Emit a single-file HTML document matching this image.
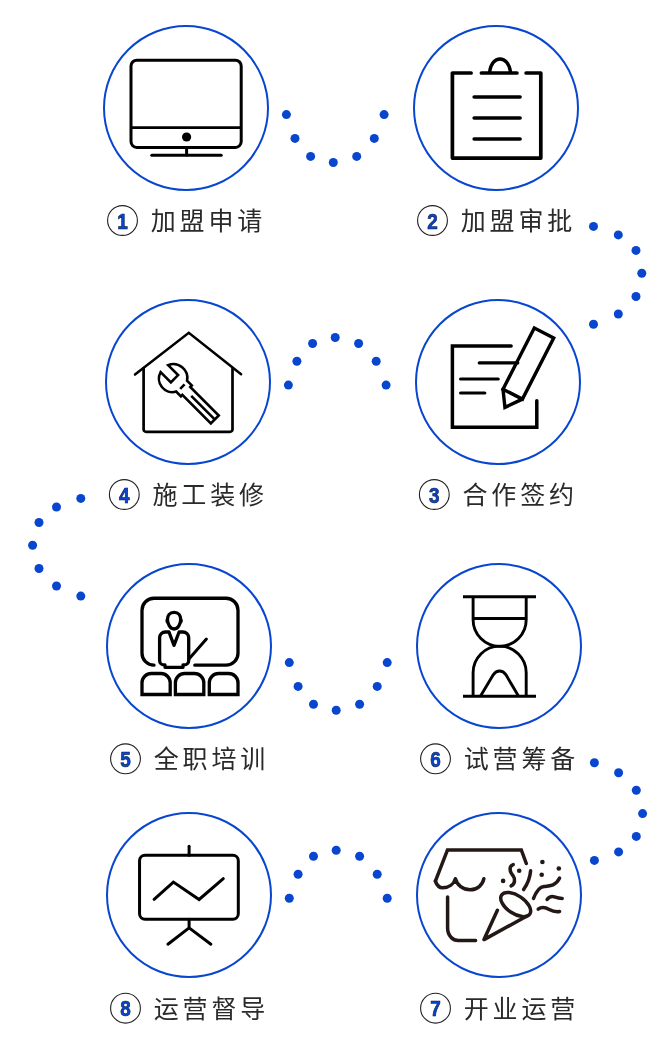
<!DOCTYPE html>
<html lang="zh-CN">
<head>
<meta charset="utf-8">
<title>加盟流程</title>
<style>
html,body{margin:0;padding:0;background:#fff;}
body{width:672px;height:1058px;overflow:hidden;position:relative;}
svg{display:block;position:absolute;left:0;top:0;will-change:transform;}
.t{font-family:"Liberation Sans","Noto Sans CJK SC",sans-serif;font-size:25px;font-weight:400;letter-spacing:3.85px;fill:#2a2a2a;}
.n{font-family:"Liberation Sans","DejaVu Sans",sans-serif;font-size:22px;font-weight:700;fill:#0846d0;stroke:#10204a;stroke-width:0.7px;}
</style>
</head>
<body>
<svg width="672" height="1058" viewBox="0 0 672 1058">
<g fill="#0846d0">
<circle cx="286.4" cy="114.6" r="4.5"/>
<circle cx="295.0" cy="138.4" r="4.5"/>
<circle cx="310.6" cy="156.4" r="4.5"/>
<circle cx="333.3" cy="162.5" r="4.5"/>
<circle cx="356.7" cy="156.4" r="4.5"/>
<circle cx="374.3" cy="138.4" r="4.5"/>
<circle cx="384.1" cy="114.6" r="4.5"/>
<circle cx="593.5" cy="226.4" r="4.5"/>
<circle cx="618.3" cy="234.9" r="4.5"/>
<circle cx="636.0" cy="250.4" r="4.5"/>
<circle cx="641.8" cy="273.3" r="4.5"/>
<circle cx="636.0" cy="296.5" r="4.5"/>
<circle cx="618.3" cy="314.0" r="4.5"/>
<circle cx="593.5" cy="324.2" r="4.5"/>
<circle cx="288.4" cy="385.1" r="4.5"/>
<circle cx="296.9" cy="361.3" r="4.5"/>
<circle cx="312.6" cy="343.5" r="4.5"/>
<circle cx="335.2" cy="337.5" r="4.5"/>
<circle cx="358.6" cy="343.5" r="4.5"/>
<circle cx="376.2" cy="361.3" r="4.5"/>
<circle cx="386.1" cy="385.1" r="4.5"/>
<circle cx="80.8" cy="498.4" r="4.5"/>
<circle cx="56.5" cy="507.0" r="4.5"/>
<circle cx="39.0" cy="522.5" r="4.5"/>
<circle cx="32.6" cy="545.3" r="4.5"/>
<circle cx="39.0" cy="568.5" r="4.5"/>
<circle cx="56.5" cy="586.0" r="4.5"/>
<circle cx="80.8" cy="596.1" r="4.5"/>
<circle cx="289.3" cy="662.6" r="4.5"/>
<circle cx="298.1" cy="686.4" r="4.5"/>
<circle cx="313.5" cy="704.2" r="4.5"/>
<circle cx="336.2" cy="710.2" r="4.5"/>
<circle cx="359.6" cy="704.2" r="4.5"/>
<circle cx="377.2" cy="686.4" r="4.5"/>
<circle cx="387.2" cy="662.6" r="4.5"/>
<circle cx="594.4" cy="762.8" r="4.5"/>
<circle cx="618.6" cy="772.8" r="4.5"/>
<circle cx="636.3" cy="790.2" r="4.5"/>
<circle cx="642.6" cy="813.6" r="4.5"/>
<circle cx="636.3" cy="836.4" r="4.5"/>
<circle cx="618.6" cy="851.9" r="4.5"/>
<circle cx="594.4" cy="860.4" r="4.5"/>
<circle cx="289.3" cy="898.3" r="4.5"/>
<circle cx="298.1" cy="874.3" r="4.5"/>
<circle cx="313.5" cy="856.3" r="4.5"/>
<circle cx="336.2" cy="850.3" r="4.5"/>
<circle cx="359.6" cy="856.3" r="4.5"/>
<circle cx="377.2" cy="874.3" r="4.5"/>
<circle cx="387.2" cy="898.3" r="4.5"/>
</g>
<circle cx="186.0" cy="108.0" r="82" fill="none" stroke="#0846d0" stroke-width="2"/>
<g transform="translate(186.0 108.0)"><g fill="none" stroke="#000" stroke-width="3" stroke-linecap="round" stroke-linejoin="round">
<rect x="-55" y="-47.8" width="110.2" height="87.2" rx="5.8"/>
<line x1="-54" y1="19.6" x2="54" y2="19.6" stroke-width="2.7" stroke-linecap="butt"/>
<line x1="0.6" y1="40" x2="0.6" y2="47"/>
<line x1="-34.2" y1="47.2" x2="35.2" y2="47.2"/>
<circle cx="0.6" cy="29" r="4.6" fill="#000" stroke="none"/>
</g></g>
<circle cx="122.5" cy="220.5" r="14.9" fill="#fff" stroke="#222" stroke-width="1.1"/>
<text class="n" transform="translate(122.4 228.5) scale(0.86 1)" text-anchor="middle">1</text>
<text class="t" x="150.7" y="229.9">加盟申请</text>
<circle cx="496.0" cy="108.0" r="82" fill="none" stroke="#0846d0" stroke-width="2"/>
<g transform="translate(496.0 108.0)"><g fill="none" stroke="#000" stroke-width="3.7" stroke-linecap="round" stroke-linejoin="round">
<path d="M-24.9 -35H-43.6V50.1H44.8V-35H30.1"/>
<path d="M-14.6 -35H20.9"/>
<path d="M-6.4 -36C-5.4 -44.5 -1 -49 4 -49C9 -49 13.5 -44.5 14.5 -36" stroke-width="3.3"/>
<g stroke-width="3.5"><line x1="-21.9" y1="-10.9" x2="24.1" y2="-10.9"/>
<line x1="-21.9" y1="9.9" x2="24.1" y2="9.9"/>
<line x1="-21.9" y1="31" x2="24.1" y2="31"/></g>
</g></g>
<circle cx="432.5" cy="220.5" r="14.9" fill="#fff" stroke="#222" stroke-width="1.1"/>
<text class="n" transform="translate(432.4 228.5) scale(0.86 1)" text-anchor="middle">2</text>
<text class="t" x="460.7" y="229.9">加盟审批</text>
<circle cx="188.0" cy="382.0" r="82" fill="none" stroke="#0846d0" stroke-width="2"/>
<g transform="translate(187.8 382.2)"><g fill="none" stroke="#000" stroke-width="2.7" stroke-linecap="round" stroke-linejoin="round">
<path d="M-52.8 -7.6L1 -49.4L53.3 -7.9" stroke-linejoin="miter" stroke-width="2.5"/>
<path d="M-44.2 -14V47.2a2.5 2.5 0 0 0 2.5 2.5H42.2a2.5 2.5 0 0 0 2.5 -2.5V-14"/>
<g transform="translate(-12.9 -3.2) rotate(45)" stroke-width="2.6" stroke-linejoin="miter">
<path d="M-14.6 -5H-0.5V5.2H-15A13.5 13.5 0 0 0 9.8 8H16.5V6H56.8V-5.2H16.5V-7.4H9.8A14 14 0 0 0 -14.6 -5Z"/>
<path d="M10.7 -3V3.2M23.5 0.4H56.3" stroke-linecap="butt"/>
</g>
</g></g>
<circle cx="124.3" cy="494.5" r="14.9" fill="#fff" stroke="#222" stroke-width="1.1"/>
<text class="n" transform="translate(124.2 502.5) scale(0.86 1)" text-anchor="middle">4</text>
<text class="t" x="152.5" y="504.3">施工装修</text>
<circle cx="498.0" cy="382.0" r="82" fill="none" stroke="#0846d0" stroke-width="2"/>
<g transform="translate(497.8 382.2)"><g fill="none" stroke="#000" stroke-width="3.5" stroke-linecap="round" stroke-linejoin="round">
<path d="M13.3 -36.2H-45.4V45H39V18.5" stroke-linejoin="miter"/>
<g stroke-width="3.2"><line x1="-18.5" y1="-19.3" x2="20" y2="-19.3"/>
<line x1="-37.2" y1="-3.2" x2="0.4" y2="-3.2"/>
<line x1="-37.2" y1="10.8" x2="-13" y2="10.8"/></g>
<g transform="translate(30.5 -19.35) rotate(27.1)" stroke-linejoin="miter" stroke-width="3.4">
<rect x="-10.5" y="-33.7" width="21.8" height="68.7"/>
<path d="M-10.5 35L-0.5 50.3L11.3 35"/>
</g>
</g></g>
<circle cx="434.3" cy="494.5" r="14.9" fill="#fff" stroke="#222" stroke-width="1.1"/>
<text class="n" transform="translate(434.2 502.5) scale(0.86 1)" text-anchor="middle">3</text>
<text class="t" x="462.5" y="504.3">合作签约</text>
<circle cx="189.0" cy="646.0" r="82" fill="none" stroke="#0846d0" stroke-width="2"/>
<g transform="translate(189.0 646.0)"><g fill="none" stroke="#000" stroke-width="3.3" stroke-linecap="round" stroke-linejoin="round">
<path d="M-36.4 19.2H-35A12 12 0 0 1 -47 7.2V-35.75A12 12 0 0 1 -35 -47.75H37A12 12 0 0 1 49 -35.75V7.2A12 12 0 0 1 37 19.2H5.8"/>
<path d="M-14.9 -33.7C-10.3 -33.7 -8.3 -30.3 -8.3 -26.6C-8.3 -22 -11 -17 -14.9 -17C-18.8 -17 -21.5 -22 -21.5 -26.6C-21.5 -30.3 -19.5 -33.7 -14.9 -33.7Z" stroke-width="3.3"/>
<path d="M-22 -26.6a1.2 1.6 0 0 0 0.6 3M-7.8 -26.6a1.2 1.6 0 0 1 -0.6 3" stroke-width="2"/>
<path d="M-20 -14H-23.6A5.8 5.8 0 0 0 -29.4 -8.2V14.4A4.5 4.5 0 0 0 -24.9 18.9H-24V21.3H-6V18.9H-4.8A4.5 4.5 0 0 0 -0.3 14.4V-8.2A5.8 5.8 0 0 0 -6.1 -14H-9.9L-15 -0.6L-20 -14Z"/>
<line x1="-0.3" y1="13.2" x2="17.4" y2="-6.9" stroke-width="3"/>
<g stroke-linecap="butt" stroke-linejoin="miter" stroke-width="3.3">
<path d="M-47 48.5V36.8A9.3 9.3 0 0 1 -37.7 27.5H-28.1A9.3 9.3 0 0 1 -18.8 36.8V48.5Z"/>
<path d="M-13.6 48.5V36.8A9.3 9.3 0 0 1 -4.3 27.5H5.5A9.3 9.3 0 0 1 14.8 36.8V48.5Z"/>
<path d="M20.3 48.5V36.8A9.3 9.3 0 0 1 29.6 27.5H39.7A9.3 9.3 0 0 1 49 36.8V48.5Z"/>
</g>
</g></g>
<circle cx="125.5" cy="758.8" r="14.9" fill="#fff" stroke="#222" stroke-width="1.1"/>
<text class="n" transform="translate(125.4 766.8) scale(0.86 1)" text-anchor="middle">5</text>
<text class="t" x="153.7" y="768.2">全职培训</text>
<circle cx="499.0" cy="646.0" r="82" fill="none" stroke="#0846d0" stroke-width="2"/>
<g transform="translate(499.0 646.0)"><g fill="none" stroke="#000" stroke-width="2.9" stroke-linecap="butt" stroke-linejoin="round">
<line x1="-36" y1="-49.2" x2="37" y2="-49.2"/>
<line x1="-36" y1="50.2" x2="37" y2="50.2"/>
<path d="M-25.9 -49.2V-26.2A26.55 26.55 0 0 0 27.2 -26.2V-49.2"/>
<line x1="-25.9" y1="-27.5" x2="27.2" y2="-27.5"/>
<path d="M-25.9 50.2V26.7A26.55 26.55 0 0 1 27.2 26.7V50.2"/>
<path d="M-18.6 50.2L-5.6 28.6C-3.6 25.6 -1.6 25 0.6 25C2.8 25 4.8 25.6 6.8 28.6L19.6 50.2" stroke-linejoin="round"/>
</g></g>
<circle cx="435.5" cy="758.8" r="14.9" fill="#fff" stroke="#222" stroke-width="1.1"/>
<text class="n" transform="translate(435.4 766.8) scale(0.86 1)" text-anchor="middle">6</text>
<text class="t" x="463.7" y="768.2">试营筹备</text>
<circle cx="189.0" cy="895.0" r="82" fill="none" stroke="#0846d0" stroke-width="2"/>
<g transform="translate(189.0 895.0)"><g fill="none" stroke="#000" stroke-width="3" stroke-linecap="round" stroke-linejoin="round">
<rect x="-49.45" y="-39.7" width="98.75" height="63.9" rx="5.5"/>
<line x1="0.1" y1="-48.8" x2="0.1" y2="-39.7"/>
<path d="M0.1 24.2V32.9M-21.1 49.2L0.1 32.9L21.9 49.2"/>
<path d="M-34.9 4.3L-15.6 -12.9L10.1 4.5L34.3 -16.3" stroke-linejoin="miter"/>
</g></g>
<circle cx="125.5" cy="1008.2" r="14.9" fill="#fff" stroke="#222" stroke-width="1.1"/>
<text class="n" transform="translate(125.4 1016.2) scale(0.86 1)" text-anchor="middle">8</text>
<text class="t" x="153.7" y="1017.6">运营督导</text>
<circle cx="499.0" cy="895.0" r="82" fill="none" stroke="#0846d0" stroke-width="2"/>
<g transform="translate(499.0 895.0)"><g fill="none" stroke="#231815" stroke-width="3.5" stroke-linecap="round" stroke-linejoin="round">
<path d="M-63.6 -13.9L-51.5 -45.1H22.3L27.3 -31.5" stroke-linejoin="miter"/>
<path d="M-63.6 -13.9C-62 -9 -59 -7.2 -56.1 -7.2C-50 -7.4 -45 -11 -43.6 -16.3C-42 -10 -36 -5.2 -28.8 -5.2C-21.5 -5.2 -16.5 -10 -15.1 -16.3"/>
<path d="M-51.4 1.9V33.1C-51.4 41 -46 45.6 -40.7 45.6H-23.4"/>
<path d="M-1.6 15.3L-15 44.6L27.5 21.2"/>
<ellipse cx="16.7" cy="9.6" rx="17" ry="9" transform="rotate(34 16.7 9.6)"/>
<path d="M14.2 -30.4C10 -29 10 -24 14.2 -19C16.5 -16 16 -11 12.1 -9.1"/>
<path d="M31.6 -24.2C31 -17 28.5 -11 24.6 -5.4"/>
<path d="M34.5 3.4C37 -3 40 -8 45 -8.5C50 -9 57 -9 60.6 -16.9"/>
<path d="M48.1 4.5C50 2 53 1.2 55.4 1.9C58 2.8 61 3.4 63.2 3.4"/>
<path d="M39.2 14.2C42 12 46 12 50.2 14.4C54 16.5 57 17 60.6 16.5"/>
<g fill="#231815" stroke="none"><circle cx="20.2" cy="-24.2" r="2.3"/><circle cx="4.1" cy="-14.1" r="2.3"/><circle cx="43.4" cy="-33" r="2.3"/><circle cx="42.7" cy="-20.2" r="2.3"/><circle cx="59.8" cy="-26.5" r="2.3"/></g>
</g></g>
<circle cx="435.5" cy="1008.2" r="14.9" fill="#fff" stroke="#222" stroke-width="1.1"/>
<text class="n" transform="translate(435.4 1016.2) scale(0.86 1)" text-anchor="middle">7</text>
<text class="t" x="463.7" y="1017.6">开业运营</text>
</svg>
</body>
</html>
